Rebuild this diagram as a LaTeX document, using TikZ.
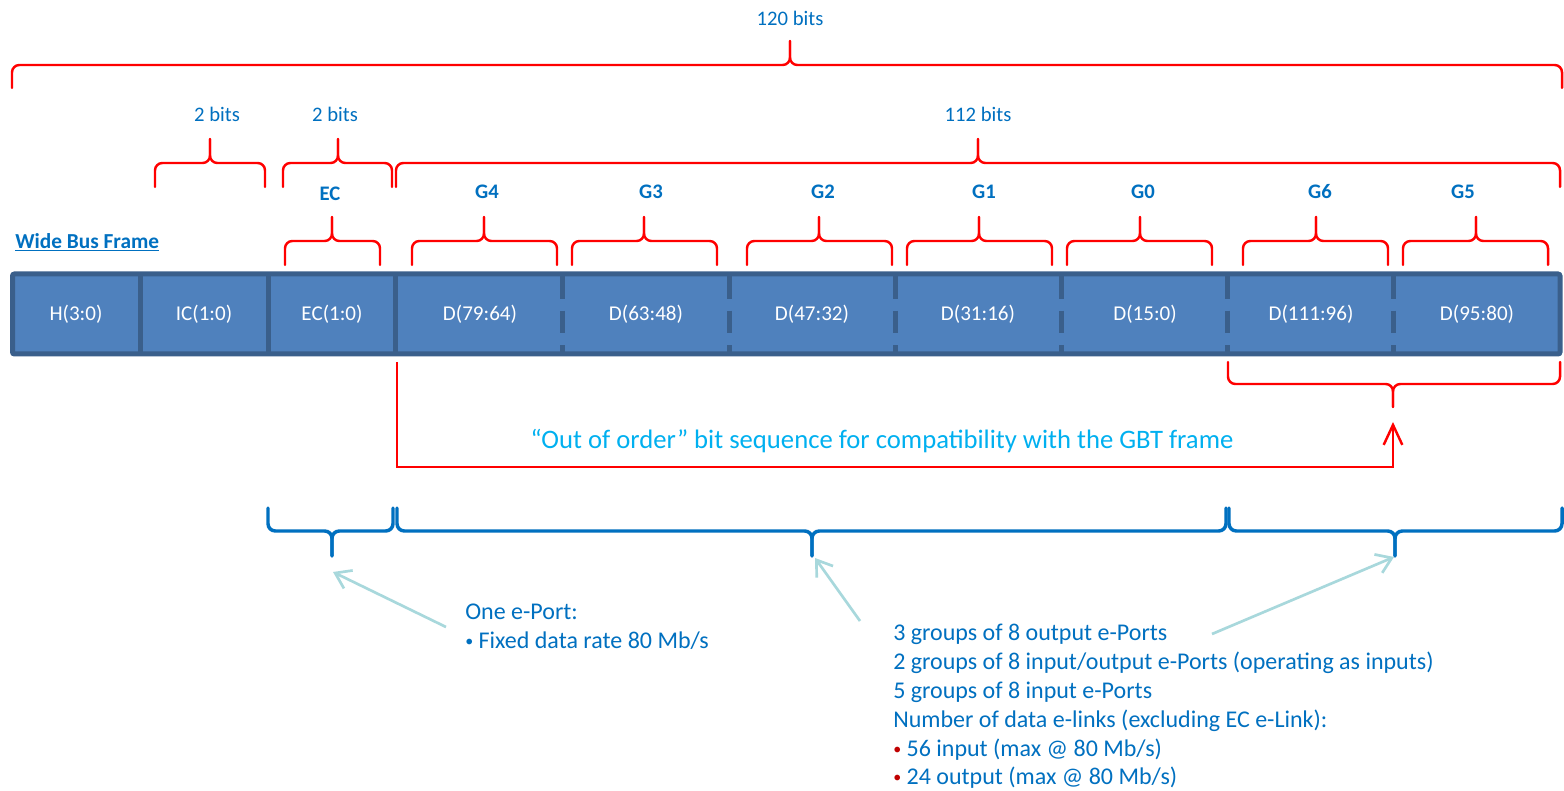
\documentclass[tikz,border=0pt]{standalone}
\usepackage{fontspec}
\setmainfont{Carlito}
\usetikzlibrary{arrows.meta}
\definecolor{bfill}{HTML}{4F81BD}
\definecolor{bline}{HTML}{3A5F8B}
\definecolor{lblue}{HTML}{0070C0}
\definecolor{rbrace}{HTML}{FF0000}
\definecolor{cyantxt}{HTML}{00B0F0}
\definecolor{tealc}{HTML}{A8D8DC}
\definecolor{bulred}{HTML}{C00000}
% #1 style, #2 x1, #3 x2, #4 xm, #5 y end, #6 y horizontal, #7 y tip
\newcommand\mybrc[7]{%
  \draw[#1] (#2,#5) |- (#4,#6) -- (#4,#7);
  \draw[#1] (#4,#7) -- (#4,#6) -| (#3,#5);}
\newcommand\smbul{{\fontsize{12}{12}\selectfont\raisebox{0.8pt}{•}}}
\begin{document}
\begin{tikzpicture}[x=0.75pt,y=-0.75pt,
  redbr/.style={draw=rbrace, line width=1.85pt, rounded corners=5.5pt, line cap=round},
  bluebr/.style={draw=lblue, line width=2.6pt, rounded corners=5.5pt, line cap=round},
  lbl/.style={text=lblue, font=\fontsize{15.5}{18}\selectfont, inner sep=0pt},
  glbl/.style={text=lblue, font=\bfseries\fontsize{15.5}{18}\selectfont, inner sep=0pt},
  celltxt/.style={text=white, font=\fontsize{15.8}{18}\selectfont, inner sep=0pt},
  note/.style={text=lblue, font=\fontsize{18}{22}\selectfont, anchor=base west, inner sep=0pt},
  tealarr/.style={draw=tealc, line width=2pt, -{Straight Barb[length=11pt,width=15pt]}},
  divsolid/.style={draw=bline, line width=3.75pt},
  divdash/.style={draw=bline, line width=3.75pt, dash pattern=on 17pt off 9pt},
]
\useasboundingbox (0,0) rectangle (1564,791);
\fill[white] (0,0) rectangle (1564,791);

% ---- frame bar ----
\draw[fill=bfill, draw=bline, line width=3.75pt, rounded corners=1.5pt] (12.5,274) rectangle (1560,354);
\draw[divsolid] (140,274) -- (140,354);
\draw[divsolid] (268,274) -- (268,354);
\draw[divsolid] (395.5,274) -- (395.5,354);
\foreach \x in {562.5,729,895,1061,1227.5,1393.5}
  \draw[divdash] (\x,276) -- (\x,352);

\node[celltxt] (h)   at (76,314)   {H(3:0)};
\node[celltxt] (ic)  at (204,314)  {IC(1:0)};
\node[celltxt] (ec)  at (332,314)  {EC(1:0)};
\node[celltxt] (d4)  at (480,314)  {D(79:64)};
\node[celltxt] (d3)  at (646,314)  {D(63:48)};
\node[celltxt] (d2)  at (812,314)  {D(47:32)};
\node[celltxt] (d1)  at (978,314)  {D(31:16)};
\node[celltxt] (d0)  at (1145,314) {D(15:0)};
\node[celltxt] (d6)  at (1311,314) {D(111:96)};
\node[celltxt] (d5)  at (1477,314) {D(95:80)};

\node[text=lblue, font=\bfseries\fontsize{16}{19}\selectfont, anchor=west, inner sep=0pt] (wbf) at (15,242) {\underline{Wide Bus Frame}};

% ---- top braces ----
\mybrc{redbr}{12}{1562}{790}{88}{65}{41}
\node[lbl] (l120) at (790,18) {120 bits};
\mybrc{redbr}{155}{265}{210}{187}{163}{139}
\node[lbl] (l2a) at (217,114) {2 bits};
\mybrc{redbr}{283}{392}{338}{187}{163}{139}
\node[lbl] (l2b) at (335,114) {2 bits};
\mybrc{redbr}{396}{1560}{978}{187}{163}{139}
\node[lbl] (l112) at (978,114) {112 bits};

% ---- group braces ----
\mybrc{redbr}{285}{380}{332}{265}{241}{217}
\node[glbl] (gec) at (330,194) {EC};
\mybrc{redbr}{412}{557}{484}{265}{241}{217}
\node[glbl] (g4) at (487,192) {G4};
\mybrc{redbr}{572}{717}{644}{265}{241}{217}
\node[glbl] (g3) at (651,192) {G3};
\mybrc{redbr}{747}{892}{819}{265}{241}{217}
\node[glbl] (g2) at (823,192) {G2};
\mybrc{redbr}{907}{1052}{979}{265}{241}{217}
\node[glbl] (g1) at (984,192) {G1};
\mybrc{redbr}{1067}{1212}{1140}{265}{241}{217}
\node[glbl] (g0) at (1143,192) {G0};
\mybrc{redbr}{1243}{1388}{1316}{265}{241}{217}
\node[glbl] (g6) at (1320,192) {G6};
\mybrc{redbr}{1403}{1548}{1476}{265}{241}{217}
\node[glbl] (g5) at (1463,192) {G5};

% ---- out of order ----
\mybrc{redbr}{1228}{1560}{1393}{362}{384}{407}
\coordinate (ooA) at (397,362);
\coordinate (ooC) at (1393,467);
\coordinate (ooB) at (1393,422);
\draw[draw=rbrace, line width=1.85pt, -{Straight Barb[length=15pt,width=14pt]}] (ooA) |- (ooC) -- (ooB);
\node[text=cyantxt, font=\fontsize{20}{24}\selectfont, inner sep=0pt] (oot) at (882,441) {“Out of order” bit sequence for compatibility with the GBT frame};

% ---- blue braces ----
\mybrc{bluebr}{268}{393}{332}{508}{531}{556}
\mybrc{bluebr}{397}{1226}{812}{508}{531}{556}
\mybrc{bluebr}{1229}{1562}{1395}{508}{531}{556}
\coordinate (tipec) at (333,572);
\coordinate (tipd)  at (815,558);
\coordinate (tipr)  at (1394,557);
\coordinate (srcec) at (446,627);
\coordinate (srcd)  at (860,621);
\coordinate (srcr)  at (1212,634);
\draw[tealarr] (srcec) -- (tipec);
\draw[tealarr] (srcd) -- (tipd);
\draw[tealarr] (srcr) -- (tipr);

% ---- notes ----
\node[note] (n1) at (465,619) {One e-Port:};
\node[note] (n2) at (465,648) {\smbul{} Fixed data rate 80 Mb/s};
\node[note] (m1) at (893,640) {3 groups of 8 output e-Ports};
\node[note] (m2) at (893,669) {2 groups of 8 input/output e-Ports (operating as inputs)};
\node[note] (m3) at (893,698) {5 groups of 8 input e-Ports};
\node[note] (m4) at (893,727) {Number of data e-links (excluding EC e-Link):};
\node[note] (m5) at (893,756) {\textcolor{bulred}{\smbul} 56 input (max @ 80 Mb/s)};
\node[note] (m6) at (893,784) {\textcolor{bulred}{\smbul} 24 output (max @ 80 Mb/s)};
\end{tikzpicture}
\end{document}
